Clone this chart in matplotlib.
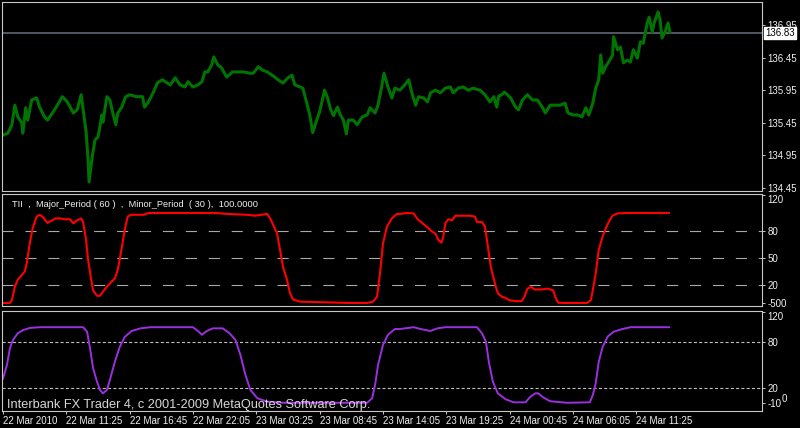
import matplotlib.pyplot as plt

plt.rcParams['font.family'] = ['Liberation Sans', 'DejaVu Sans']
plt.rcParams['lines.scale_dashes'] = False

# ---- values (M5 bars, bar 0 = 22 Mar 06:05) ----
price_bar = [0, 5, 9, 12, 15, 19, 20, 23, 25, 29, 34, 37, 42, 45, 50, 55, 60, 65, 68, 71,
             75, 79, 81, 84, 86, 87, 90, 93, 96, 100, 101, 105, 108, 111, 114, 116, 120, 124, 128, 135,
             141, 143, 147, 152, 156, 161, 166, 169, 174, 179, 184, 187, 192, 197, 201, 204, 207, 211, 213, 217,
             221, 226, 232, 237, 243, 250, 253, 258, 262, 267, 272, 278, 283, 288, 292, 295, 300, 303, 307, 310,
             313, 317, 320, 325, 328, 331, 334, 338, 341, 344, 347, 349, 354, 358, 363, 368, 371, 376, 379, 383,
             385, 389, 393, 396, 401, 406, 410, 413, 417, 420, 425, 429, 432, 437, 442, 447, 452, 455, 460, 465,
             470, 475, 482, 487, 492, 496, 499, 501, 504, 507, 513, 518, 521, 525, 530, 535, 540, 545, 548, 553,
             558, 563, 568, 571, 576, 581, 585, 589, 592, 596, 599, 602, 604, 606, 609, 612, 616, 617, 621, 624,
             627, 631, 634, 637, 641, 644, 647, 651, 653, 656, 658, 662, 664, 666, 669, 672, 674]
price_val = [135.26, 135.29, 135.42, 135.72, 135.54, 135.45, 135.29, 135.68, 135.49, 135.80,
             135.83, 135.69, 135.54, 135.49, 135.60, 135.72, 135.85, 135.77, 135.69, 135.60,
             135.65, 135.88, 135.65, 135.31, 134.88, 134.54, 134.91, 135.19, 135.23, 135.57,
             135.46, 135.85, 135.80, 135.60, 135.42, 135.60, 135.69, 135.85, 135.88, 135.85,
             135.85, 135.69, 135.77, 135.92, 136.06, 136.11, 136.06, 136.03, 136.14, 136.03,
             136.00, 136.08, 136.00, 136.03, 136.08, 136.23, 136.23, 136.34, 136.46, 136.34,
             136.29, 136.15, 136.23, 136.23, 136.23, 136.21, 136.21, 136.31, 136.26, 136.23,
             136.18, 136.11, 136.06, 136.14, 136.18, 136.03, 136.00, 135.98, 135.75, 135.57,
             135.30, 135.49, 135.62, 135.95, 135.83, 135.66, 135.56, 135.69, 135.57, 135.49,
             135.28, 135.49, 135.49, 135.42, 135.54, 135.57, 135.68, 135.60, 135.72, 136.03,
             136.21, 136.00, 135.83, 135.98, 135.95, 136.03, 136.11, 135.92, 135.72, 135.85,
             135.83, 135.77, 135.91, 135.95, 135.91, 135.98, 136.00, 135.91, 135.98, 136.00,
             135.95, 135.98, 135.95, 135.88, 135.77, 135.85, 135.69, 135.86, 135.88, 135.92,
             135.83, 135.69, 135.65, 135.80, 135.88, 135.80, 135.80, 135.69, 135.60, 135.72,
             135.72, 135.72, 135.75, 135.60, 135.57, 135.57, 135.54, 135.68, 135.57, 135.75,
             135.98, 136.11, 136.49, 136.21, 136.31, 136.38, 136.49, 136.77, 136.57, 136.61,
             136.37, 136.41, 136.38, 136.57, 136.44, 136.69, 136.67, 136.98, 137.07, 136.84,
             136.98, 137.15, 137.03, 136.75, 136.84, 136.98, 136.84]
last_price = 136.83
price_ticks = [134.45, 134.95, 135.45, 135.95, 136.45, 136.95]

tii_bar = [0, 7, 9, 12, 15, 19, 22, 24, 27, 30, 34, 37, 40, 45, 50, 53, 58, 63, 68, 71,
           75, 79, 81, 84, 86, 89, 91, 95, 98, 101, 105, 110, 113, 116, 120, 123, 126, 129, 142, 147,
           216, 226, 247, 255, 267, 270, 273, 277, 280, 283, 287, 290, 293, 300, 317, 334, 351, 368, 374, 378,
           381, 384, 388, 393, 398, 401, 408, 415, 419, 424, 429, 434, 437, 440, 443, 445, 447, 450, 454, 457,
           462, 472, 477, 479, 484, 487, 490, 493, 495, 498, 500, 504, 507, 512, 519, 524, 527, 530, 534, 537,
           544, 550, 556, 558, 561, 566, 590, 594, 596, 599, 602, 606, 610, 613, 616, 621, 630, 673]
tii_val = [0, 0, 3, 18, 26, 31, 35, 44, 66, 83, 96, 98, 96, 89, 92, 94, 94, 93, 93, 88.5,
           92, 94, 90, 70, 48, 27, 14, 8, 8, 12.6, 18, 24, 27, 37, 61, 81, 96, 98, 98, 100,
           100, 99, 98, 97, 99, 94, 87, 77, 59, 40, 26, 11, 4, 1.5, 1, 0.5, 0, 0, 1.5, 7,
           33, 66, 85, 94, 99, 99, 100, 99.6, 93, 88.5, 84, 79, 77, 70, 67, 74, 88.5, 93, 92, 97,
           97, 97, 96, 90, 90, 85, 63, 40, 31, 18, 11, 7, 6, 3, 2, 2, 7, 16, 18, 15,
           15, 16, 14, 7, 0.4, 0, 0, 3, 14, 33, 59, 74, 85, 92, 97, 99.6, 100, 100]
tii_levels = [20, 50, 80]
tii_ticks = [0, 20, 50, 80, 120]
tii_ticklabels = ['-500', '20', '50', '80', '120']
tii_title = 'TII  ,  Major_Period ( 60 )  ,  Minor_Period  ( 30 ),  100.0000'

stc_bar = [0, 4, 7, 10, 15, 20, 27, 37, 81, 85, 88, 91, 95, 98, 101, 105, 108, 113, 118, 123,
           130, 139, 149, 192, 197, 201, 206, 212, 222, 229, 235, 240, 245, 250, 257, 267, 283, 368, 373, 376,
           379, 384, 389, 396, 401, 415, 422, 432, 439, 447, 479, 484, 488, 491, 495, 500, 508, 516, 528, 533,
           538, 541, 546, 553, 570, 593, 596, 599, 602, 606, 611, 617, 626, 634, 673]
stc_val = [32, 50, 72, 83, 92, 96, 99, 100, 100, 94, 72, 46, 28, 17, 12.5, 17, 30, 54, 74, 87,
           95, 98.5, 100, 100, 95, 90, 95, 98.5, 98.5, 92, 83, 63, 37, 17, 6, 1.5, 0, 0, 6, 23.5,
           50, 76.5, 90, 97.6, 97.6, 100, 97.6, 95, 98.5, 100, 100, 92, 81, 54, 28, 12.5, 4.6, 0.6, 0.6, 8,
           12.5, 12.5, 7, 2, 0, 0.6, 10, 26, 54, 74, 87.5, 94, 97.6, 100, 100]
stc_levels = [20, 80]
stc_ticks = [0, 20, 80, 120]
stc_ticklabels = ['-10', '20', '80', '120']
stc_title = 'Schaff Trend Cycle 99.9892'

bars_per_label = 64
time_labels = ['22 Mar 2010', '22 Mar 11:25', '22 Mar 16:45', '22 Mar 22:05', '23 Mar 03:25',
               '23 Mar 08:45', '23 Mar 14:05', '23 Mar 19:25', '24 Mar 00:45', '24 Mar 06:05',
               '24 Mar 11:25']
time_ticks = [i * bars_per_label for i in range(len(time_labels))]

copyright_text = 'Interbank FX Trader 4, c 2001-2009 MetaQuotes Software Corp.'

BG = 'black'
FRAME = '#c8c8c8'
TXT = '#f0f0f0'

fig = plt.figure(figsize=(8, 4.28), dpi=100, facecolor=BG)
left, width = 0.0031, 0.9494
ax1 = fig.add_axes([left, 0.5526, width, 0.4416])
ax2 = fig.add_axes([left, 0.2839, width, 0.2617])
ax3 = fig.add_axes([left, 0.0397, width, 0.2348])

for ax in (ax1, ax2, ax3):
    ax.set_facecolor(BG)
    ax.set_xlim(-0.5, 767)
    for s in ax.spines.values():
        s.set_color(FRAME)
        s.set_linewidth(0.8)
    ax.yaxis.tick_right()
    ax.tick_params(axis='y', direction='out', length=2, width=0.7, color=FRAME,
                   labelcolor=TXT, labelsize=7, pad=2)
    ax.tick_params(axis='x', bottom=False, labelbottom=False)

# price panel
ax1.set_ylim(134.396, 137.295)
ax1.axhline(last_price, color='#56606c', lw=1.3, zorder=1)
ax1.plot(price_bar, price_val, color='#007400', lw=2.2, zorder=2)
ax1.set_yticks(price_ticks, ['%.2f' % p for p in price_ticks])
ax1.annotate('%.2f' % last_price, xy=(1, last_price), xycoords=('axes fraction', 'data'),
             xytext=(3, 0), textcoords='offset pixels', ha='left', va='center',
             fontsize=7, color='black', annotation_clip=False, zorder=10,
             bbox=dict(boxstyle='square,pad=0.12', fc='white', ec='white'))

# TII panel
ax2.set_ylim(-3.9, 120.6)
for lv in tii_levels:
    ax2.axhline(lv, color='#a8a8a8', lw=0.8, dashes=(8, 8.5), zorder=1)
ax2.plot(tii_bar, tii_val, color='#ff0000', lw=1.5, zorder=2)
ax2.set_yticks(tii_ticks, tii_ticklabels)
ax2.text(0.012, 0.915, tii_title, transform=ax2.transAxes, color=TXT, fontsize=6.7,
         ha='left', va='center')

# Schaff Trend Cycle panel
ax3.set_ylim(-10.9, 122.1)
for lv in stc_levels:
    ax3.axhline(lv, color='#c0c0c0', lw=0.8, dashes=(2.2, 1.6), zorder=1)
ax3.plot(stc_bar, stc_val, color='#9c2fe0', lw=1.4, zorder=2)
ax3.set_yticks(stc_ticks, stc_ticklabels)
ax3.annotate('0', xy=(1, 0), xycoords=('axes fraction', 'data'), xytext=(20, 4),
             textcoords='offset pixels', ha='left', va='center', fontsize=7,
             color=TXT, annotation_clip=False)
ax3.text(0.006, 0.06, copyright_text, transform=ax3.transAxes, color='#d8d8d8',
         fontsize=9.2, ha='left', va='center')
ax3.set_xticks(time_ticks, time_labels)
ax3.tick_params(axis='x', bottom=True, labelbottom=True, direction='out', length=2.2,
                width=0.7, color=FRAME, labelcolor=TXT, labelsize=7, pad=1.5)
for lab in ax3.get_xticklabels():
    lab.set_ha('left')

for ax in (ax2, ax3):
    for lab in ax.get_yticklabels():
        if lab.get_text() == '120':
            lab.set_va('top')

fig.savefig('out.png', dpi=100, facecolor=BG)
